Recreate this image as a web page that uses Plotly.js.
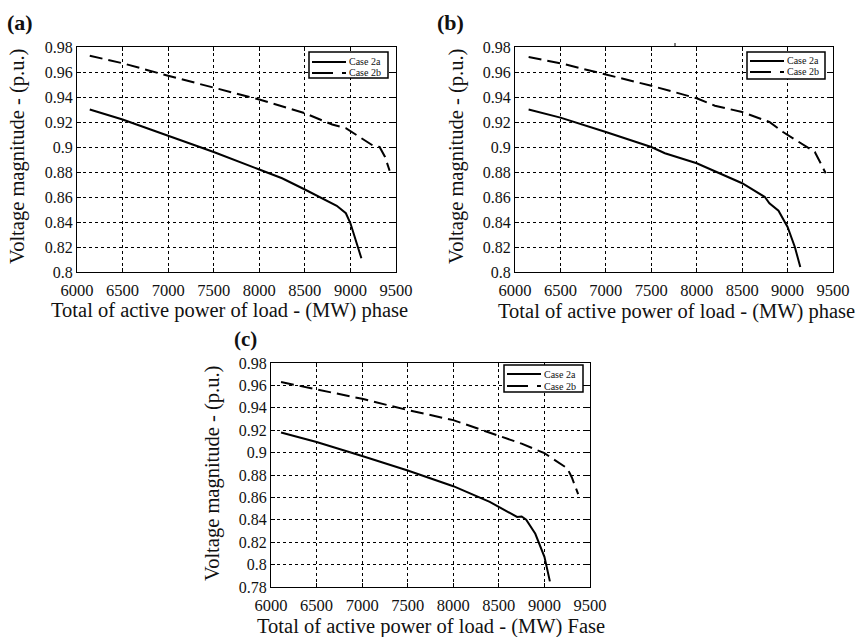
<!DOCTYPE html>
<html>
<head>
<meta charset="utf-8">
<script src="https://cdn.plot.ly/plotly-3.0.1.min.js"></script>
<style>html,body{margin:0;padding:0;background:#fff;}#chart{width:862px;height:637px;}</style>
</head>
<body>
<div id="chart"></div>
<script>
// Panel (a)
const aCase2aX = [6140, 6500, 7000, 7500, 8000, 8250, 8500, 8750, 8850, 8950, 9000, 9120];
const aCase2aY = [0.930, 0.922, 0.909, 0.896, 0.882, 0.875, 0.866, 0.857, 0.853, 0.847, 0.839, 0.811];
const aCase2bX = [6140, 6500, 7000, 7500, 8000, 8500, 8800, 8950, 9100, 9250, 9320, 9380, 9430];
const aCase2bY = [0.973, 0.967, 0.957, 0.9475, 0.938, 0.927, 0.918, 0.915, 0.908, 0.901, 0.900, 0.892, 0.881];
// Panel (b)
const bCase2aX = [6150, 6500, 7000, 7500, 7650, 8000, 8500, 8750, 8800, 8850, 8900, 9000, 9080, 9140];
const bCase2aY = [0.930, 0.9235, 0.912, 0.900, 0.895, 0.887, 0.871, 0.860, 0.855, 0.852, 0.849, 0.836, 0.820, 0.804];
const bCase2bX = [6150, 6500, 7000, 7500, 8000, 8200, 8500, 8800, 8950, 9100, 9300, 9350, 9420];
const bCase2bY = [0.972, 0.967, 0.958, 0.949, 0.939, 0.933, 0.928, 0.920, 0.912, 0.905, 0.896, 0.889, 0.879];
// Panel (c)
const cCase2aX = [6110, 6500, 7000, 7500, 8000, 8400, 8700, 8750, 8800, 8900, 9000, 9060];
const cCase2aY = [0.918, 0.9095, 0.897, 0.884, 0.870, 0.856, 0.8425, 0.843, 0.840, 0.8275, 0.807, 0.785];
const cCase2bX = [6110, 6500, 7000, 7500, 8000, 8500, 8750, 9000, 9150, 9250, 9300, 9370];
const cCase2bY = [0.963, 0.9565, 0.948, 0.938, 0.929, 0.915, 0.908, 0.8995, 0.8915, 0.886, 0.878, 0.863];

const seriesNames = ['Case 2a', 'Case 2b'];
const panelLabels = ['(a)', '(b)', '(c)'];
const xTitles = ['Total of active power of load - (MW) phase', 'Total of active power of load - (MW) phase', 'Total of active power of load - (MW) Fase'];
const yTitle = 'Voltage magnitude - (p.u.)';

const FONT = '"Liberation Serif", "Times New Roman", serif';
const DASH = '13px,6px';
const solid = {color: '#000', width: 2, dash: 'solid'};
const dashed = {color: '#000', width: 2, dash: DASH};

function tr(x, y, name, line, xa, ya) {
  return {x: x, y: y, name: name, type: 'scatter', mode: 'lines', line: line,
          xaxis: xa, yaxis: ya, showlegend: false};
}
const data = [
  tr(aCase2aX, aCase2aY, seriesNames[0], solid, 'x', 'y'),
  tr(aCase2bX, aCase2bY, seriesNames[1], dashed, 'x', 'y'),
  tr(bCase2aX, bCase2aY, seriesNames[0], solid, 'x2', 'y2'),
  tr(bCase2bX, bCase2bY, seriesNames[1], dashed, 'x2', 'y2'),
  tr(cCase2aX, cCase2aY, seriesNames[0], solid, 'x3', 'y3'),
  tr(cCase2bX, cCase2bY, seriesNames[1], dashed, 'x3', 'y3')
];

const W = 862, H = 637;
const px = v => v / W;
const py = v => 1 - v / H;

function xax(l, r, anchor) {
  return {domain: [px(l), px(r)], anchor: anchor, range: [6000, 9500], tick0: 6000, dtick: 500,
    showline: true, mirror: 'ticks', linecolor: '#000', linewidth: 1,
    showgrid: true, gridcolor: '#000', griddash: 'dot', gridwidth: 1,
    ticks: 'inside', ticklen: 4, tickcolor: '#000', zeroline: false, ticklabelstandoff: 3,
    tickfont: {family: FONT, size: 16.5, color: '#111'}, fixedrange: true};
}
function yax(t, b, anchor, lo) {
  return {domain: [py(b), py(t)], anchor: anchor, range: [lo, 0.98], tick0: lo, dtick: 0.02,
    showline: true, mirror: 'ticks', linecolor: '#000', linewidth: 1,
    showgrid: true, gridcolor: '#000', griddash: 'dot', gridwidth: 1,
    ticks: 'inside', ticklen: 4, tickcolor: '#000', zeroline: false,
    tickfont: {family: FONT, size: 16, color: '#111'}, fixedrange: true};
}

const annotations = [];
const shapes = [];
function ann(text, x, y, size, opts) {
  annotations.push(Object.assign({text: text, x: px(x), y: py(y), xref: 'paper', yref: 'paper',
    showarrow: false, xanchor: 'center', yanchor: 'middle',
    font: {family: FONT, size: size, color: '#111'}}, opts || {}));
}
ann('<b>' + panelLabels[0] + '</b>', 5, 22, 22, {xanchor: 'left'});
ann('<b>' + panelLabels[1] + '</b>', 435, 22, 22, {xanchor: 'left'});
ann('<b>' + panelLabels[2] + '</b>', 232, 339, 21, {xanchor: 'left'});
ann(xTitles[0], 229, 310, 20.5);
ann(xTitles[1], 676, 311, 20.5);
ann(xTitles[2], 431, 626, 20.5);
ann(yTitle, 18, 157, 20.5, {textangle: -90});
ann(yTitle, 457, 157, 20.5, {textangle: -90});
ann(yTitle, 212, 474, 20.5, {textangle: -90});

// legend boxes (drawn manually for compact MATLAB-like spacing)
function legendBox(l, t, r, b, row1, row2) {
  shapes.push({type: 'rect', xref: 'paper', yref: 'paper', x0: px(l), x1: px(r), y0: py(b), y1: py(t),
    fillcolor: '#fff', line: {color: '#000', width: 1.5}, layer: 'above'});
  const lx0 = l + 3, lx1 = l + 37;
  shapes.push({type: 'line', xref: 'paper', yref: 'paper', x0: px(lx0), x1: px(lx1), y0: py(row1), y1: py(row1),
    line: {color: '#000', width: 2}, layer: 'above'});
  shapes.push({type: 'line', xref: 'paper', yref: 'paper', x0: px(lx0), x1: px(lx1), y0: py(row2), y1: py(row2),
    line: {color: '#000', width: 2, dash: '21px,9px,4px'}, layer: 'above'});
  ann(seriesNames[0], lx1 + 1, row1, 10, {xanchor: 'left'});
  ann(seriesNames[1], lx1 + 1, row2, 10, {xanchor: 'left'});
}
legendBox(309, 52, 388, 78, 62, 73);
legendBox(747, 52, 825, 79, 61, 72);
legendBox(504, 365, 583, 392, 374, 386);

shapes.push({type: 'line', xref: 'paper', yref: 'paper', x0: px(675), x1: px(675), y0: py(43), y1: py(47),
  line: {color: '#000', width: 1}});

const layout = {
  width: W, height: H, margin: {l: 0, r: 0, t: 0, b: 0},
  paper_bgcolor: '#fff', plot_bgcolor: '#fff',
  font: {family: FONT, color: '#111'},
  showlegend: false,
  xaxis: xax(77, 396, 'y'), yaxis: yax(47, 272, 'x', 0.8),
  xaxis2: xax(515, 833, 'y2'), yaxis2: yax(47, 272, 'x2', 0.8),
  xaxis3: xax(271, 590, 'y3'), yaxis3: yax(363, 587, 'x3', 0.78),
  annotations: annotations,
  shapes: shapes
};

Plotly.newPlot('chart', data, layout, {displayModeBar: false, staticPlot: true});
</script>
</body>
</html>
